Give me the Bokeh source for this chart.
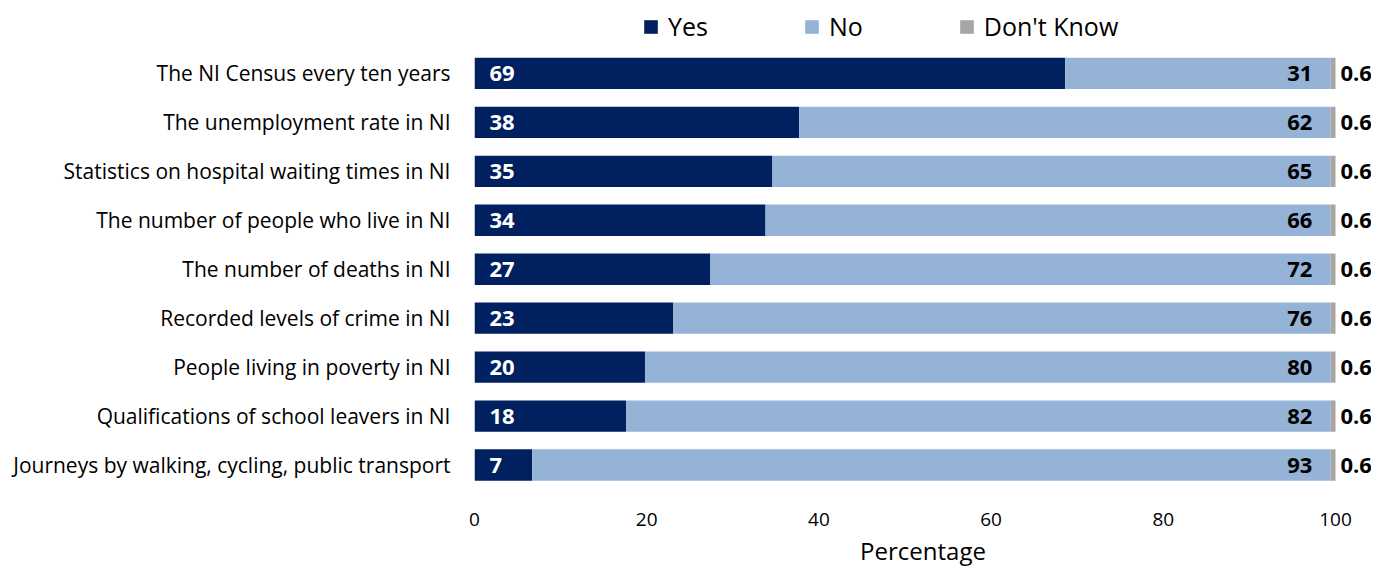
from bokeh.plotting import figure
from bokeh.models import ColumnDataSource, Range1d, Legend, LegendItem, FixedTicker
from bokeh.core.properties import value
from bokeh.embed import file_html
from bokeh.resources import INLINE

categories = [
    "The NI Census every ten years",
    "The unemployment rate in NI",
    "Statistics on hospital waiting times in NI",
    "The number of people who live in NI",
    "The number of deaths in NI",
    "Recorded levels of crime in NI",
    "People living in poverty in NI",
    "Qualifications of school leavers in NI",
    "Journeys by walking, cycling, public transport",
]
yes = [68.6, 37.7, 34.6, 33.8, 27.4, 23.1, 19.8, 17.6, 6.7]
no = [30.8, 61.7, 64.8, 65.6, 72.0, 76.3, 79.6, 81.8, 92.7]
dont_know = [0.6, 0.6, 0.6, 0.6, 0.6, 0.6, 0.6, 0.6, 0.6]
x_ticks = [0, 20, 40, 60, 80, 100]

FONT = "Open Sans"
C_YES = "#002060"
C_NO = "#95B3D7"
C_DK = "#A6A6A6"

n = len(categories)
ypos = [n - 1 - i for i in range(n)]

source = ColumnDataSource(dict(
    ypos=ypos,
    yes=yes,
    no=no,
    dk=dont_know,
    no_end=[y + v for y, v in zip(yes, no)],
    dk_end=[y + v + d for y, v, d in zip(yes, no, dont_know)],
    yes_lbl=[f"{v:.0f}" for v in yes],
    no_lbl=[f"{v:.0f}" for v in no],
    dk_lbl=[f"{v:.1f}" for v in dont_know],
    zero=[0] * n,
))

p = figure(
    width=1371, height=569,
    y_range=Range1d(-0.5, n + 0.49),
    x_range=Range1d(0, 104.18),
    output_backend="svg", toolbar_location=None,
    min_border_left=474, min_border_right=0, min_border_top=0, min_border_bottom=80,
)
p.outline_line_color = None
p.background_fill_color = "white"

rs = p.hbar_stack(["yes", "no", "dk"], y="ypos", height=0.64,
                  color=[C_YES, C_NO, C_DK], source=source, line_color=None)

p.text(x="zero", y="ypos", text="yes_lbl", source=source, x_offset=15,
       text_align="left", text_baseline="middle", text_color="white",
       text_font=value(FONT), text_font_style="bold", text_font_size="22px")
p.text(x="no_end", y="ypos", text="no_lbl", source=source, x_offset=-18,
       text_align="right", text_baseline="middle", text_color="black",
       text_font=value(FONT), text_font_style="bold", text_font_size="22px")
p.text(x="dk_end", y="ypos", text="dk_lbl", source=source, x_offset=5,
       text_align="left", text_baseline="middle", text_color="black",
       text_font=value(FONT), text_font_style="bold", text_font_size="22px")

legend = Legend(items=[
    LegendItem(label="Yes", renderers=[rs[0]]),
    LegendItem(label="No", renderers=[rs[1]]),
    LegendItem(label="Don't Know", renderers=[rs[2]]),
], orientation="horizontal")
legend.label_text_font = FONT
legend.label_text_font_size = "25px"
legend.label_text_color = "black"
legend.glyph_width = 17
legend.glyph_height = 17
legend.label_standoff = 9
legend.spacing = 95
legend.padding = 0
legend.margin = 0
legend.label_height = 30
legend.border_line_color = None
legend.background_fill_alpha = 0
legend.location = (168, 446)
p.add_layout(legend, "center")

p.xaxis.ticker = x_ticks
p.xaxis.axis_line_color = None
p.xaxis.major_tick_line_color = None
p.xaxis.minor_tick_line_color = None
p.xaxis.major_label_standoff = 17
p.xaxis.major_label_text_font = FONT
p.xaxis.major_label_text_font_size = "19px"
p.xaxis.major_label_text_color = "black"
p.xaxis.axis_label = "Percentage"
p.xaxis.axis_label_text_font = FONT
p.xaxis.axis_label_text_font_size = "24px"
p.xaxis.axis_label_text_font_style = "normal"
p.xaxis.axis_label_text_color = "black"
p.xaxis.axis_label_standoff = 5

p.yaxis.ticker = FixedTicker(ticks=ypos)
p.yaxis.major_label_overrides = {yv: c for yv, c in zip(ypos, categories)}
p.yaxis.axis_line_color = None
p.yaxis.major_tick_line_color = None
p.yaxis.minor_tick_line_color = None
p.yaxis.major_label_standoff = 18
p.yaxis.major_label_text_font = FONT
p.yaxis.major_label_text_font_size = "21px"
p.yaxis.major_label_text_color = "black"

p.xgrid.grid_line_color = None
p.ygrid.grid_line_color = None

open("out.html", "w").write(file_html(p, INLINE))
